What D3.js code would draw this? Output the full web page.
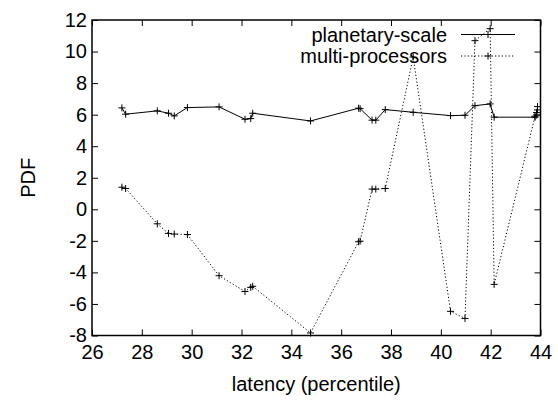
<!DOCTYPE html>
<html>
<head>
<meta charset="utf-8">
<script src="https://cdn.jsdelivr.net/npm/d3@7"></script>
<style>
    body { margin: 0; background: #fff; }
    svg { font-family: "Liberation Sans", Arial, sans-serif; }
</style>
</head>
<body>
<svg id="chart" width="558" height="400"></svg>
<script>

// data
var latency = [27.2, 27.35, 28.62, 29.07, 29.3, 29.83, 31.1, 32.14, 32.37, 32.45,
    34.77, 36.7, 36.76, 37.24, 37.39, 37.77, 38.89, 40.39, 40.97, 41.37,
    41.98, 42.14, 43.78, 43.84, 43.88];
var planetaryScale = [6.43, 6.03, 6.24, 6.09, 5.92, 6.45, 6.49, 5.71, 5.75, 6.09,
    5.60, 6.41, 6.38, 5.65, 5.65, 6.32, 6.15, 5.94, 5.96, 6.57,
    6.68, 5.84, 5.84, 5.98, 6.30];
var multiProcessors = [1.40, 1.32, -0.92, -1.53, -1.57, -1.60, -4.21, -5.21, -4.95, -4.88,
    -7.84, -2.06, -2.02, 1.28, 1.28, 1.32, 9.65, -6.47, -6.92, 10.69,
    11.45, -4.76, 5.9, 6.13, 6.51];
var seriesNames = ["planetary-scale", "multi-processors"];
var xTicks = [26, 28, 30, 32, 34, 36, 38, 40, 42, 44];
var yTicks = [-8, -6, -4, -2, 0, 2, 4, 6, 8, 10, 12];

var svg = d3.select("#chart");

// plot box
var box = {left: 92, right: 540.5, top: 20, bottom: 335.5};
var fontSize = 20;

var x = d3.scaleLinear().domain([26, 44]).range([box.left, box.right]);
var y = d3.scaleLinear().domain([-8, 12]).range([box.bottom, box.top]);

var fmt = function(d){ return String(d); };

function styleAxis(g){
    g.select(".domain").remove();
    g.selectAll("line").attr("stroke", "#000").attr("stroke-width", 1);
    g.selectAll("text").attr("font-size", fontSize).attr("fill", "#000")
        .attr("font-family", "Liberation Sans, Arial, sans-serif");
}

svg.append("g")
    .attr("transform", "translate(0," + box.bottom + ")")
    .call(d3.axisBottom(x).tickValues(xTicks).tickFormat(fmt).tickSize(-6).tickPadding(9))
    .call(styleAxis);
svg.append("g")
    .attr("transform", "translate(0," + box.top + ")")
    .call(d3.axisTop(x).tickValues(xTicks).tickFormat("").tickSize(-6))
    .call(styleAxis);
svg.append("g")
    .attr("transform", "translate(" + box.left + ",0)")
    .call(d3.axisLeft(y).tickValues(yTicks).tickFormat(fmt).tickSize(-6).tickPadding(5))
    .call(styleAxis);
svg.append("g")
    .attr("transform", "translate(" + box.right + ",0)")
    .call(d3.axisRight(y).tickValues(yTicks).tickFormat("").tickSize(-6))
    .call(styleAxis);

// frame
svg.append("rect")
    .attr("x", box.left).attr("y", box.top)
    .attr("width", box.right - box.left).attr("height", box.bottom - box.top)
    .attr("fill", "none").attr("stroke", "#000").attr("stroke-width", 1.5);

// axis titles
svg.append("text")
    .attr("x", (box.left + box.right) / 2).attr("y", 391)
    .attr("text-anchor", "middle")
    .attr("font-size", fontSize)
    .text("latency (percentile)");
svg.append("text")
    .attr("transform", "translate(35," + ((box.top + box.bottom) / 2) + ") rotate(-90)")
    .attr("text-anchor", "middle")
    .attr("font-size", fontSize)
    .text("PDF");

var series = [
    {name: seriesNames[0], values: planetaryScale, dash: null},
    {name: seriesNames[1], values: multiProcessors, dash: "1.2,2.2"}
];

var line = d3.line()
    .x(function(d){ return x(d[0]); })
    .y(function(d){ return y(d[1]); });

function plus(g, cx, cy){
    var s = 3.5;
    g.append("path")
        .attr("d", "M" + (cx - s) + "," + cy + "H" + (cx + s) + "M" + cx + "," + (cy - s) + "V" + (cy + s))
        .attr("stroke", "#000").attr("stroke-width", 1).attr("fill", "none");
}

series.forEach(function(s, i){
    var pts = latency.map(function(v, j){ return [v, s.values[j]]; });
    var g = svg.append("g").attr("class", "series");
    g.append("path")
        .datum(pts)
        .attr("d", line)
        .attr("fill", "none")
        .attr("stroke", "#000")
        .attr("stroke-width", 1)
        .attr("stroke-dasharray", s.dash);
    pts.forEach(function(p){ plus(g, x(p[0]), y(p[1])); });

    // key
    var ky = 34.5 + i * 21.5;
    svg.append("text")
        .attr("x", 447).attr("y", ky + 7)
        .attr("text-anchor", "end")
        .attr("font-size", fontSize)
        .text(s.name);
    svg.append("line")
        .attr("x1", 461).attr("x2", 515)
        .attr("y1", ky).attr("y2", ky)
        .attr("stroke", "#000").attr("stroke-width", 1)
        .attr("stroke-dasharray", s.dash);
    plus(svg, 488, ky);
});

</script>
</body>
</html>
